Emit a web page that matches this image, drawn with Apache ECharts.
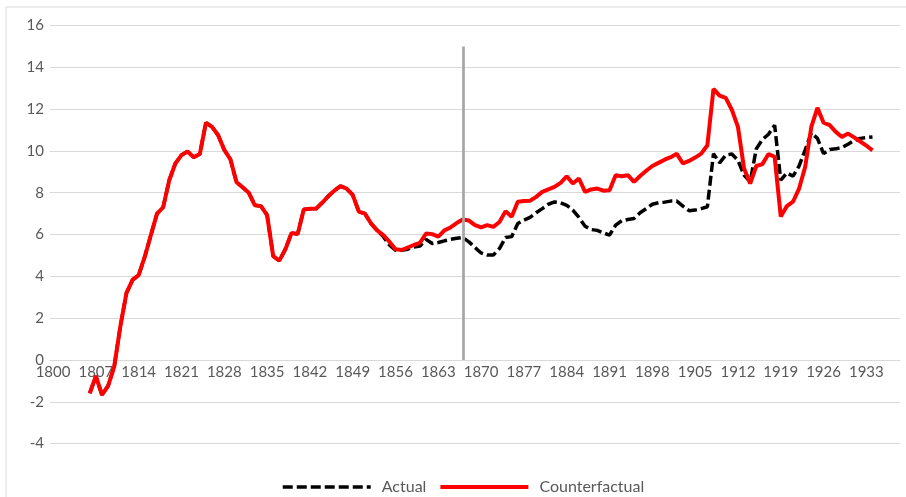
<!DOCTYPE html>
<html>
<head>
<meta charset="utf-8">
<script src="https://cdn.jsdelivr.net/npm/echarts@6/dist/echarts.min.js"></script>
<style>
  html, body { margin: 0; padding: 0; background: #fff; }
  #chart { width: 906px; height: 497px; }
</style>
</head>
<body>
<div id="chart"></div>
<script>
// categories on the x axis: 1800 .. 1938
var years = []
for (var y = 1800; y <= 1938; y++) years.push(String(y))

// both series start in 1806
var seriesStart = 1806

var counterfactual = [
  -1.59, -0.77, -1.67, -1.24, -0.32, 1.6, 3.2, 3.83, 4.06, 4.94,
  5.98, 7.0, 7.3, 8.6, 9.4, 9.8, 9.97, 9.7, 9.85, 11.35,
  11.15, 10.75, 10.05, 9.6, 8.5, 8.26, 8.0, 7.4, 7.36, 6.93,
  4.97, 4.75, 5.3, 6.08, 6.02, 7.2, 7.23, 7.23, 7.52, 7.83,
  8.1, 8.32, 8.2, 7.9, 7.1, 7.0, 6.53, 6.2, 5.97, 5.66,
  5.3, 5.26, 5.38, 5.5, 5.6, 6.05, 6.02, 5.9, 6.2, 6.34,
  6.55, 6.72, 6.67, 6.45, 6.34, 6.45, 6.37, 6.6, 7.12, 6.85,
  7.57, 7.6, 7.62, 7.8, 8.04, 8.16, 8.28, 8.47, 8.79, 8.44,
  8.68, 8.04, 8.16, 8.2, 8.1, 8.12, 8.84, 8.79, 8.84, 8.52,
  8.8, 9.05, 9.28, 9.43, 9.58, 9.7, 9.86, 9.4, 9.52, 9.68,
  9.87, 10.27, 12.97, 12.65, 12.54, 11.97, 11.15, 9.16, 8.44, 9.28,
  9.37, 9.85, 9.72, 6.86, 7.36, 7.57, 8.2, 9.24, 11.15, 12.06,
  11.35, 11.23, 10.91, 10.67, 10.83, 10.65, 10.45, 10.25, 10.03
]

var actual = [
  -1.59, -0.77, -1.67, -1.24, -0.32, 1.6, 3.2, 3.83, 4.06, 4.94,
  5.98, 7.0, 7.3, 8.6, 9.4, 9.8, 9.97, 9.7, 9.85, 11.35,
  11.15, 10.75, 10.05, 9.6, 8.5, 8.26, 8.0, 7.4, 7.36, 6.93,
  4.97, 4.75, 5.3, 6.08, 6.02, 7.2, 7.23, 7.23, 7.52, 7.83,
  8.1, 8.32, 8.2, 7.9, 7.1, 7.0, 6.53, 6.2, 5.9, 5.5,
  5.25, 5.25, 5.3, 5.4, 5.45, 5.77, 5.57, 5.62, 5.7, 5.77,
  5.82, 5.86, 5.65, 5.38, 5.12, 5.02, 5.02, 5.33, 5.86, 5.9,
  6.53, 6.69, 6.82, 7.04, 7.24, 7.45, 7.56, 7.52, 7.4, 7.17,
  6.82, 6.4, 6.24, 6.2, 6.08, 5.97, 6.45, 6.66, 6.72, 6.77,
  7.04, 7.24, 7.45, 7.52, 7.55, 7.6, 7.6, 7.36, 7.14, 7.17,
  7.24, 7.33, 9.87, 9.43, 9.8, 9.85, 9.55, 8.84, 8.52, 10.1,
  10.55, 10.8, 11.23, 8.6, 8.95, 8.79, 9.28, 10.05, 10.86, 10.6,
  9.87, 10.07, 10.1, 10.16, 10.32, 10.5, 10.6, 10.64, 10.67
]

// vertical reference line
var markYear = '1867'
var markTop = 15

function pad(values) {
  var out = []
  for (var i = 1800; i < seriesStart; i++) out.push(null)
  return out.concat(values)
}

var chart = echarts.init(document.getElementById('chart'))
var labelColor = '#595959'
var fontFamily = 'Lato, "Noto Sans", sans-serif'

chart.setOption({
  animation: false,
  backgroundColor: '#ffffff',
  graphic: [{
    type: 'rect',
    shape: { x: 6, y: 7, width: 1000, height: 1000 },
    style: { fill: 'none', stroke: '#d9d9d9', lineWidth: 1 },
    silent: true
  }],
  grid: {
    left: 50,
    right: 6,
    top: 25.5,
    bottom: 53.4,
    containLabel: false
  },
  legend: {
    top: 474,
    left: 276,
    itemWidth: 88,
    itemHeight: 14,
    itemGap: 12,
    itemStyle: { opacity: 0 },
    lineStyle: { width: 'inherit' },
    textStyle: {
      color: labelColor,
      fontSize: 16,
      fontFamily: fontFamily,
      padding: [0, 0, 0, 6]
    },
    data: ['Actual', 'Counterfactual']
  },
  xAxis: {
    type: 'category',
    data: years,
    boundaryGap: true,
    // labels sit at the zero line, as in the original
    offset: -83.6,
    axisLine: {
      onZero: false,
      lineStyle: { color: '#d9d9d9', width: 1 }
    },
    axisTick: { show: false },
    axisLabel: {
      interval: 6,
      color: labelColor,
      fontSize: 15,
      fontFamily: fontFamily,
      margin: 5
    },
    splitLine: { show: false }
  },
  yAxis: {
    type: 'value',
    min: -4,
    max: 16,
    interval: 2,
    axisLine: { show: false },
    axisTick: { show: false },
    axisLabel: {
      color: labelColor,
      fontSize: 15,
      fontFamily: fontFamily,
      margin: 6
    },
    splitLine: {
      lineStyle: { color: '#d9d9d9', width: 1 }
    }
  },
  series: [
    {
      name: 'Actual',
      type: 'line',
      data: pad(actual),
      symbol: 'none',
      z: 2,
      lineStyle: {
        color: '#000000',
        width: 3.5,
        type: [10, 4]
      },
      itemStyle: { color: '#000000' },
      markLine: {
        silent: true,
        symbol: 'none',
        label: { show: false },
        lineStyle: { color: '#a6a6a6', width: 2.7, type: 'solid' },
        data: [[
          { coord: [markYear, 0] },
          { coord: [markYear, markTop] }
        ]]
      }
    },
    {
      name: 'Counterfactual',
      type: 'line',
      data: pad(counterfactual),
      symbol: 'none',
      z: 3,
      lineStyle: {
        color: '#ff0000',
        width: 4
      },
      itemStyle: { color: '#ff0000' }
    }
  ]
})
</script>
</body>
</html>
